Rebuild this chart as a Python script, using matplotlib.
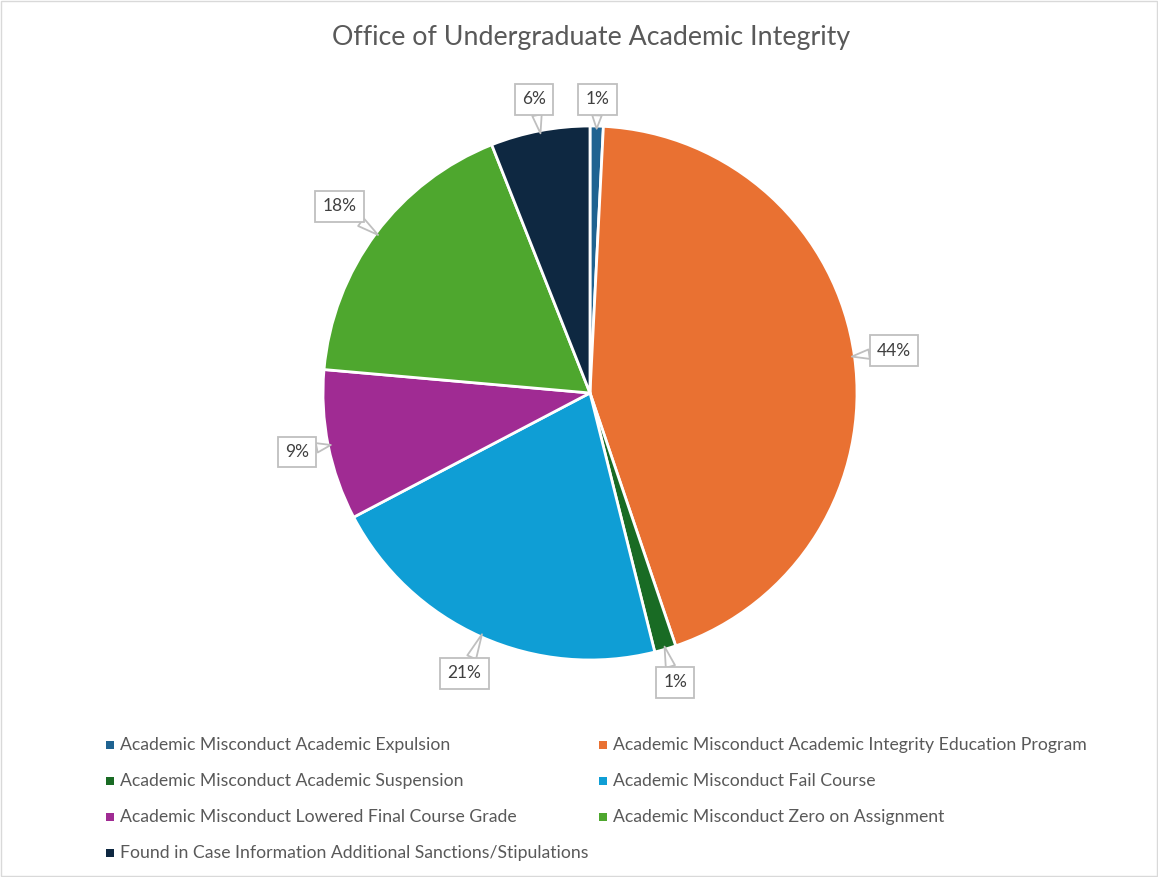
import numpy as np
import matplotlib
matplotlib.use("Agg")
import matplotlib.pyplot as plt
from matplotlib.patches import Rectangle

categories = [
    "Academic Misconduct Academic Expulsion",
    "Academic Misconduct Academic Integrity Education Program",
    "Academic Misconduct Academic Suspension",
    "Academic Misconduct Fail Course",
    "Academic Misconduct Lowered Final Course Grade",
    "Academic Misconduct Zero on Assignment",
    "Found in Case Information Additional Sanctions/Stipulations",
]
values = [0.8, 44.0, 1.3, 21.2, 9.1, 17.6, 6.0]
labels = ["1%", "44%", "1%", "21%", "9%", "18%", "6%"]
colors = ["#1f6391", "#e97132", "#196b24", "#0f9ed5", "#a02b93", "#4ea72e", "#0e2841"]
label_dist = [1.10, 1.15, 1.13, 1.15, 1.12, 1.17, 1.12]

W, H = 1158, 877
fig = plt.figure(figsize=(W / 100, H / 100), dpi=100)
plt.rcParams['font.family'] = ['Lato', 'DejaVu Sans']

# border
fig.patches.append(Rectangle((0.001, 0.001), 0.998, 0.998, transform=fig.transFigure,
                             fill=False, ec="#d9d9d9", lw=1))

cx, cy, r = 590, H - 393, 267
ax = fig.add_axes([(cx - r) / W, (cy - r) / H, 2 * r / W, 2 * r / H])
wedges, _ = ax.pie(values, colors=colors, startangle=90, counterclock=False,
                   wedgeprops=dict(edgecolor="white", linewidth=2))
ax.set_xlim(-1, 1)
ax.set_ylim(-1, 1)
ax.set_aspect("equal")

for w, lab, d in zip(wedges, labels, label_dist):
    ang = np.deg2rad((w.theta1 + w.theta2) / 2)
    x, y = np.cos(ang), np.sin(ang)
    ax.annotate(lab, xy=(0.99 * x, 0.99 * y), xytext=(d * x, d * y),
                ha="center", va="center", fontsize=12.5, color="#404040",
                bbox=dict(boxstyle="square,pad=0.42", fc="white", ec="#bfbfbf", lw=1.3),
                arrowprops=dict(arrowstyle="wedge,tail_width=0.55,shrink_factor=0.5",
                                fc="white", ec="#bfbfbf", lw=1.3, shrinkA=0, shrinkB=0),
                annotation_clip=False)

fig.text(591 / W, 1 - 38 / H, "Office of Undergraduate Academic Integrity",
         ha="center", va="center", fontsize=19.3, color="#595959")

# legend (row-major, two columns)
col_x = [110, 603]
row_y = [745, 781, 817, 853]
for i, (cat, col) in enumerate(zip(categories, colors)):
    rx = col_x[i % 2]
    ry = row_y[i // 2]
    fig.patches.append(Rectangle(((rx - 4) / W, 1 - (ry + 4) / H), 8 / W, 8 / H,
                                 transform=fig.transFigure, fc=col, ec="none"))
    fig.text((rx + 10) / W, 1 - ry / H, cat, ha="left", va="center",
             fontsize=12.7, color="#595959")

fig.savefig("out.png", dpi=100)
